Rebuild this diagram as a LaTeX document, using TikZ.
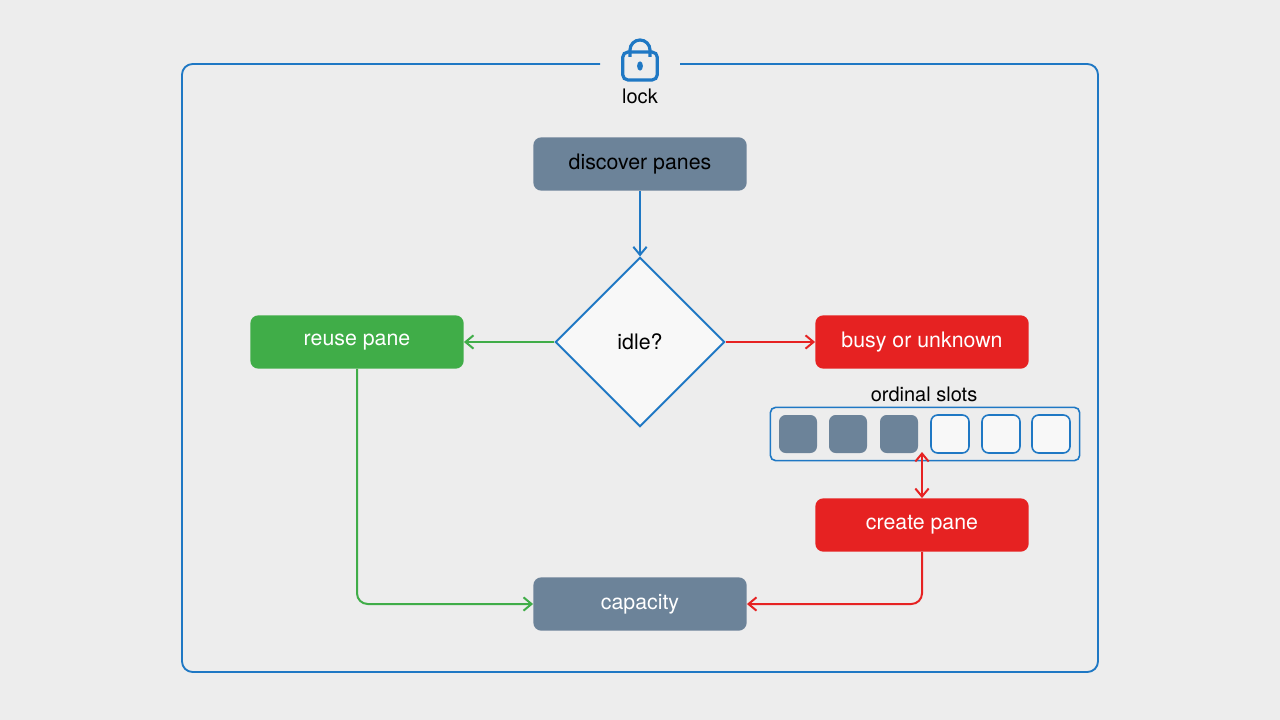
\documentclass[tikz,border=0pt]{standalone}
\usepackage{fontspec}
\setmainfont{TeX Gyre Heros}
\usetikzlibrary{shapes.geometric,arrows.meta}
\definecolor{bg}{HTML}{EDEDED}
\definecolor{slate}{HTML}{6C8399}
\definecolor{bl}{HTML}{1F78C4}
\definecolor{gr}{HTML}{40AD48}
\definecolor{rd}{HTML}{E62222}
\begin{document}
\begin{tikzpicture}[x=0.75pt,y=-0.75pt,
 box/.style={rounded corners=6pt,minimum width=160pt,minimum height=40pt,font=\fontsize{16}{18}\selectfont,inner sep=0pt},
 slot/.style={rounded corners=5pt,minimum width=28.5pt,minimum height=28.5pt,inner sep=0pt},
 arr/.style={-{Straight Barb[length=6pt,width=10pt]},line width=1.5pt}]
\fill[bg] (0,0) rectangle (1280,720);
\useasboundingbox (0,0) rectangle (1280,720);
\draw[bl,line width=1.4pt,rounded corners=8pt] (600,64) -- (182,64) -- (182,672) -- (1098,672) -- (1098,64) -- (680,64);
% lock
\node[draw=bl,line width=2.4pt,rounded corners=4pt,minimum width=26pt,minimum height=21pt,inner sep=0pt] (lockbody) at (640,66) {};
\draw[bl,line width=2.4pt] (630,57) -- (630,50) arc[start angle=180,end angle=0,x radius=10,y radius=-10] -- (650,57);
\fill[bl] (640,66) ellipse (2.2pt and 3.5pt);
\node[font=\fontsize{15}{16}\selectfont] (locklbl) at (640,96) {lock};
\node[box,fill=slate,text=black] (disc) at (640,164) {discover panes};
\node[diamond,draw=bl,fill=white!60!bg,line width=1.4pt,minimum width=127pt,minimum height=127pt,inner sep=0pt,font=\fontsize{16}{18}\selectfont] (idle) at (640,342) {idle?};
\node[box,fill=gr,text=white] (reuse) at (357,342) {reuse pane};
\node[box,fill=rd,text=white] (busy) at (922,342) {busy or unknown};
\node[font=\fontsize{15}{16}\selectfont] (ordl) at (924,394) {ordinal slots};
\node[draw=bl,line width=1.2pt,rounded corners=4pt,minimum width=232pt,minimum height=40pt,inner sep=0pt] (slots) at (925,434) {};
\foreach \i/\x in {1/798,2/848,3/899}{\node[slot,fill=slate] (s\i) at (\x,434) {};}
\foreach \i/\x in {4/950,5/1001,6/1051}{\node[slot,fill=white!60!bg,draw=bl,line width=1.2pt] (s\i) at (\x,434) {};}
\node[box,fill=rd,text=white] (create) at (922,525) {create pane};
\node[box,fill=slate,text=white] (cap) at (640,604) {capacity};
\draw[arr,bl] (disc) -- (idle);
\draw[arr,gr] (idle) -- (reuse);
\draw[arr,rd] (idle) -- (busy);
\coordinate (ct) at (922,452);
\draw[rd,line width=1.5pt,{Straight Barb[length=6pt,width=10pt]}-{Straight Barb[length=6pt,width=10pt]}] (ct) -- (create);
\draw[arr,gr,rounded corners=8pt] (reuse) -- (357,604) -- (cap);
\draw[arr,rd,rounded corners=8pt] (create) -- (922,604) -- (cap);
\end{tikzpicture}
\end{document}
